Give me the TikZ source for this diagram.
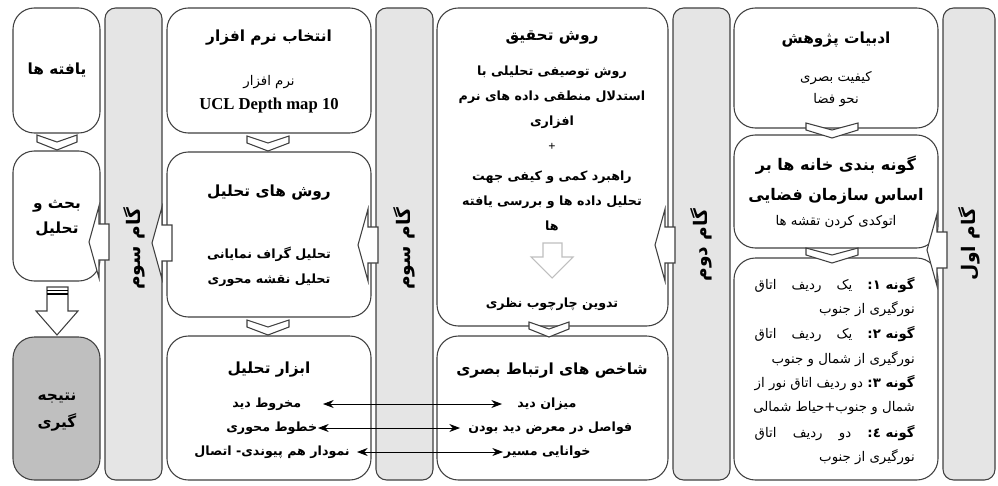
\documentclass[tikz,border=0pt]{standalone}
\usepackage{fontspec}
\setmainfont{Liberation Serif}
\newfontfamily\farsi[Script=Arabic]{DejaVu Sans}
\TeXXeTstate=1
\usetikzlibrary{arrows.meta}
\newcommand{\fa}[1]{{\farsi\beginR #1\endR}}
\newcommand{\faB}[1]{{\farsi\bfseries\beginR #1\endR}}
\newcommand{\faJ}[1]{\hbox to 120pt{\farsi\beginR #1\endR}}
\newcommand{\typeno}[1]{\hbox{\bfseries\beginR گونه\ \hbox{#1}\hbox{:}\endR}}
\tikzstyle{band} = [fill=gray!20, draw=black!75, line width=0.8pt, rounded corners=8pt]
\tikzstyle{panel} = [fill=white, draw=black!75, line width=0.8pt, rounded corners=16pt]
\tikzstyle{link} = [<->, >={Stealth[length=8pt,width=6pt]}, line width=0.6pt]

\begin{document}
\begin{tikzpicture}[
        x=0.75pt, y=-0.75pt,
        title/.style={font=\fontsize{11.5}{18.75}\selectfont, align=center, inner sep=0pt},
        body/.style={font=\bfseries\fontsize{9.5}{18.75}\selectfont, align=center, inner sep=0pt},
        small/.style={font=\fontsize{10}{17}\selectfont, align=center, inner sep=0pt},
        steplabel/.style={rotate=90, font=\fontsize{14}{15}\selectfont, inner sep=0pt},
        rowtext/.style={font=\bfseries\fontsize{9.5}{12}\selectfont, inner sep=0pt},
        typetext/.style={font=\fontsize{10}{12}\selectfont, inner sep=0pt, anchor=east},
        chevbox/.style={fill=white, draw=black!75, line width=0.8pt},
        pics/chev/.style={code={\draw[chevbox] (-#1,-7) -- (0,0) -- (#1,-7) -- (#1,0) -- (0,8) -- (-#1,0) -- cycle;}},
        pics/stepptr/.style={code={\draw[chevbox] (10,-18) -- (0,-18) -- (0,-36) -- (-10,0) -- (0,36) -- (0,18) -- (10,18) -- cycle;}},
    ]
        \useasboundingbox (0,0) rectangle (998,485);

        % step bands
        \draw[band] (105,8) rectangle (162,480);
        \draw[band] (376,8) rectangle (433,480);
        \draw[band] (673,8) rectangle (730,480);
        \draw[band] (943,8) rectangle (995,480);
        \node[steplabel] (step4) at (134,249) {\faB{گام سوم}};
        \node[steplabel] (step3) at (404,249) {\faB{گام سوم}};
        \node[steplabel] (step2) at (701,245) {\faB{گام دوم}};
        \node[steplabel] (step1) at (969,244) {\faB{گام اول}};

        % column A
        \draw[panel] (13,8) rectangle (100,133);
        \draw[panel] (13,151) rectangle (100,281);
        \draw[panel, fill=gray!50] (13,337) rectangle (100,480);
        \pic at (57,142) {chev=20};
        \draw[chevbox] (47,287) -- (68,287) -- (68,311) -- (78,311) -- (57,335) -- (36,311) -- (47,311) -- cycle;
        \draw[line width=0.8pt] (47,290.5) -- (68,290.5) (47,294) -- (68,294);
        \node[title] (findings) at (57,70) {\faB{یافته ها}};
        \node[title] (discuss) at (57,218) {\faB{بحث و}\\\faB{تحلیل}};
        \node[title, font=\fontsize{11.5}{20}\selectfont] (concl) at (57,412) {\faB{نتیجه}\\\faB{گیری}};

        % column B
        \draw[panel] (167,8) rectangle (371,133);
        \draw[panel] (167,152) rectangle (371,317);
        \draw[panel] (167,336) rectangle (371,480);
        \pic at (268,143) {chev=21};
        \pic at (268,327) {chev=21};
        \node[title] (software) at (269,38) {\faB{انتخاب نرم افزار}};
        \node[small] (swname) at (269,82) {\fa{نرم افزار}};
        \node[font=\bfseries\fontsize{12.5}{14}\selectfont, inner sep=0pt] (ucl) at (269,105) {UCL Depth map 10};
        \node[title] (methods) at (269,193) {\faB{روش های تحلیل}};
        \node[body] (vga) at (269,267) {\fa{تحلیل گراف نمایانی}\\\fa{تحلیل نقشه محوری}};
        \node[title] (tools) at (269,370) {\faB{ابزار تحلیل}};
        \node[rowtext, anchor=east, minimum width=84pt] (cone) at (323,404) {\fa{مخروط دید}};
        \node[rowtext, anchor=east, minimum width=69pt] (axial) at (318,428) {\fa{خطوط محوری}};
        \node[rowtext, anchor=east, minimum width=127pt] (connect) at (357,452) {\fa{نمودار هم پیوندی- اتصال}};

        % column C
        \draw[panel] (437,8) rectangle (668,326);
        \draw[panel] (437,336) rectangle (668,480);
        \pic at (549,329) {chev=20};
        \node[title] (research) at (552,38) {\faB{روش تحقیق}};
        \node[body] (descr) at (552,97) {\fa{روش توصیفی تحلیلی با}\\\fa{استدلال منطقی داده های نرم}\\\fa{افزاری}};
        \node[body] (plus) at (552,147) {+};
        \node[body] (mixed) at (552,201) {\fa{راهبرد کمی و کیفی جهت}\\\fa{تحلیل داده ها و بررسی یافته}\\\fa{ها}};
        \draw[fill=white, draw=gray!50, line width=0.8pt] (543,243) -- (562,243) -- (562,257) -- (573,257) -- (552,278) -- (531,257) -- (543,257) -- cycle;
        \node[body] (frame) at (552,304) {\fa{تدوین چارچوب نظری}};
        \node[title] (indices) at (552,371) {\faB{شاخص های ارتباط بصری}};
        \node[rowtext, anchor=west, minimum width=67pt] (view) at (502,404) {\fa{میزان دید}};
        \node[rowtext, anchor=west, minimum width=135pt] (expose) at (460,428) {\fa{فواصل در معرض دید بودن}};
        \node[rowtext, anchor=west, minimum width=66pt] (legible) at (503,452) {\fa{خوانایی مسیر}};

        % column D
        \draw[panel] (734,8) rectangle (938,128);
        \draw[panel] (734,135) rectangle (938,248);
        \draw[panel] (734,258) rectangle (938,480);
        \pic at (832,130) {chev=26};
        \pic at (832,255) {chev=26};
        \node[title] (lit) at (836,40) {\faB{ادبیات پژوهش}};
        \node[small] (quality) at (836,89) {\fa{کیفیت بصری}\\\fa{نحو فضا}};
        \node[title, font=\fontsize{12}{22.5}\selectfont] (typology) at (836,180) {\faB{گونه بندی خانه ها بر}\\\faB{اساس سازمان فضایی}};
        \node[small] (autocad) at (836,222) {\fa{اتوکدی کردن تقشه ها}};
        \node[typetext] (t1a) at (915,285) {\faJ{\typeno{۱} یک ردیف اتاق}};
        \node[typetext] (t1b) at (915,309.6) {\fa{نورگیری از جنوب}};
        \node[typetext] (t2a) at (915,334.2) {\faJ{\typeno{۲} یک ردیف اتاق}};
        \node[typetext] (t2b) at (915,358.8) {\fa{نورگیری از شمال و جنوب}};
        \node[typetext] (t3a) at (915,383.4) {\faJ{\typeno{۳} دو ردیف اتاق نور از}};
        \node[typetext] (t3b) at (915,408) {\fa{شمال و جنوب+حیاط شمالی}};
        \node[typetext] (t4a) at (915,432.6) {\faJ{\typeno{٤} دو ردیف اتاق}};
        \node[typetext] (t4b) at (915,457.2) {\fa{نورگیری از جنوب}};

        % step pointers
        \pic at (99,242) {stepptr};
        \pic at (162,243) {stepptr};
        \pic at (368,245) {stepptr};
        \pic at (665,245) {stepptr};
        \pic at (937,250) {stepptr};

        \draw[link] (cone.east) -- (view.west);
        \draw[link] (axial.east) -- (expose.west);
        \draw[link] (connect.east) -- (legible.west);
    \end{tikzpicture}
\end{document}
